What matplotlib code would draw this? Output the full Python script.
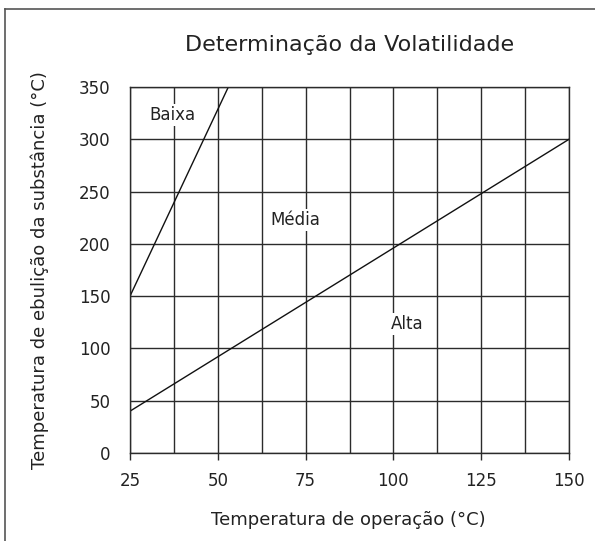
import matplotlib
matplotlib.use('Agg')
import matplotlib.pyplot as plt
from matplotlib.lines import Line2D
import numpy as np

plt.rcParams['font.family'] = 'DejaVu Sans'

# boundary lines (temperatura de operação, temperatura de ebulição)
baixa_x = [25, 53]
baixa_y = [150, 350]
alta_x = [25, 150]
alta_y = [40, 300]

regions = ['Baixa', 'Média', 'Alta']
region_x = [37, 72, 104]
region_y = [323, 223, 123]

x_ticks = [25, 50, 75, 100, 125, 150]
x_grid = np.arange(25, 151, 12.5)
y_ticks = [0, 50, 100, 150, 200, 250, 300, 350]

ink = '#2b2b2b'
txt = '#222222'

fig = plt.figure(figsize=(5.95, 5.41), dpi=100)
fig.patch.set_facecolor('white')
ax = fig.add_axes([0.2185, 0.1627, 0.7378, 0.6765])

for gx in x_grid:
    ax.axvline(gx, color=ink, linewidth=1.0, zorder=1)
for gy in y_ticks:
    ax.axhline(gy, color=ink, linewidth=1.0, zorder=1)

ax.plot(baixa_x, baixa_y, color='#111111', linewidth=1.0, zorder=2)
ax.plot(alta_x, alta_y, color='#111111', linewidth=1.0, zorder=2)

for name, rx, ry in zip(regions, region_x, region_y):
    ax.text(rx, ry, name, ha='center', va='center', fontsize=12, color=txt,
            bbox=dict(facecolor='white', edgecolor='none', pad=1.5), zorder=3)

ax.set_xlim(25, 150)
ax.set_ylim(0, 350)
ax.set_xticks(x_ticks)
ax.set_yticks(y_ticks)
ax.tick_params(axis='x', length=5, width=1, color=ink, pad=9, labelsize=12, labelcolor=txt)
ax.tick_params(axis='y', length=0, pad=14, labelsize=12, labelcolor=txt)
for s in ax.spines.values():
    s.set_color(ink)
    s.set_linewidth(1.0)

ax.set_xlabel('Temperatura de operação (°C)', fontsize=13, color=txt, va='center')
ax.xaxis.set_label_coords(0.497, -0.184)
ax.set_ylabel('Temperatura de ebulição da substância (°C)', fontsize=13, color=txt, va='center')
ax.yaxis.set_label_coords(-0.205, 0.5)
ax.text(0.5, 1.115, 'Determinação da Volatilidade', transform=ax.transAxes,
        ha='center', va='center', fontsize=16, color=txt)

# outer frame (only left and top edges visible)
fig.add_artist(Line2D([0.009, 0.009], [0.0, 0.984], transform=fig.transFigure,
                      color='#555555', linewidth=1.2))
fig.add_artist(Line2D([0.009, 1.0], [0.984, 0.984], transform=fig.transFigure,
                      color='#555555', linewidth=1.2))

plt.savefig('out.png', dpi=100, facecolor='white')
plt.close()
